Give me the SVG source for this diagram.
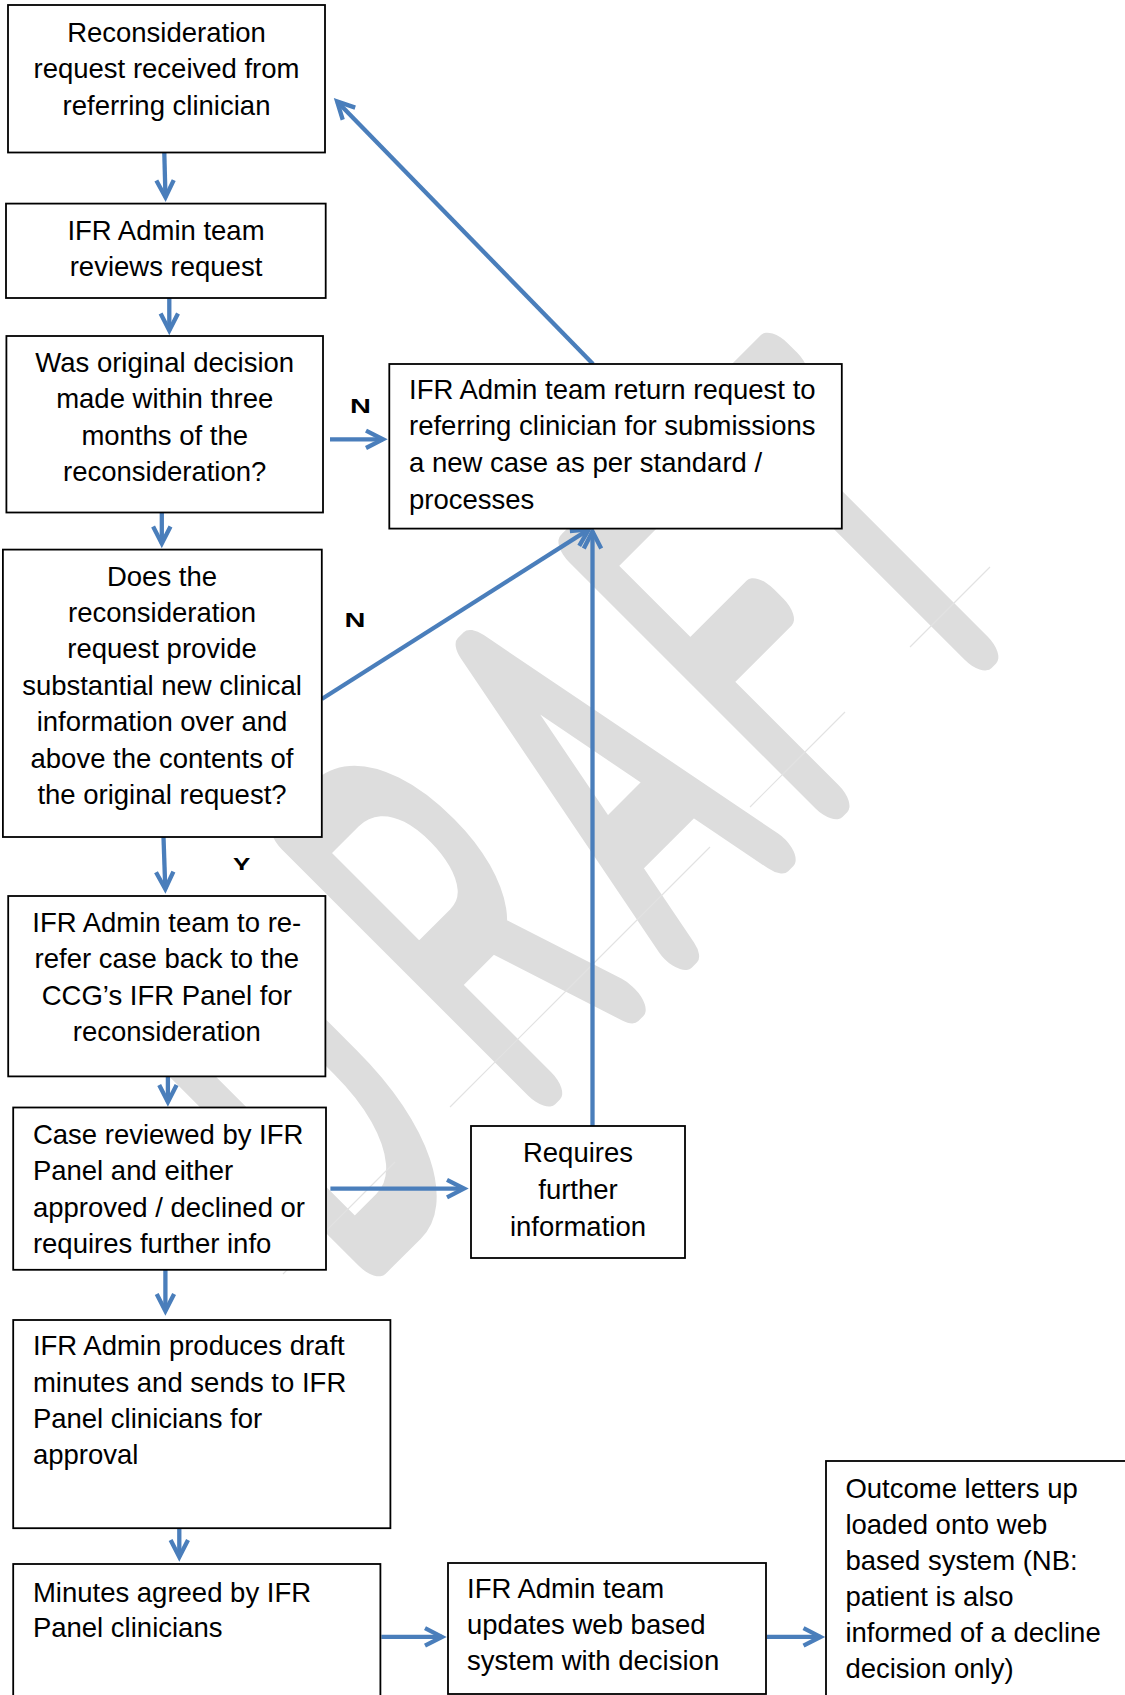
<svg xmlns="http://www.w3.org/2000/svg" width="1125" height="1695" viewBox="0 0 1125 1695">
<defs>
<style>
.box{fill:#fff;stroke:#000;stroke-width:1.8}
.t{font-family:"Liberation Sans",Arial,sans-serif;font-size:27.5px;fill:#000}
.c{text-anchor:middle}
.lbl{font-family:"Liberation Sans",Arial,sans-serif;font-size:20px;font-weight:bold;fill:#000}
.ar{fill:none;stroke:#4a7ebb;stroke-width:4.3;marker-end:url(#ah)}
.wm{font-family:Roboto,"Liberation Sans",sans-serif;font-weight:100;font-size:490px;fill:#dddddd;stroke:#dddddd;stroke-width:40;stroke-linejoin:round;vector-effect:non-scaling-stroke}
.faint{stroke:#e2e2e2;stroke-width:1.2;fill:none}
</style>
<marker id="ah" markerUnits="userSpaceOnUse" markerWidth="40" markerHeight="40" viewBox="-20 -20 40 40" refX="0" refY="0" orient="auto" overflow="visible">
<path d="M-17,-8.7 L0,0 L-17,8.7" fill="none" stroke="#4a7ebb" stroke-width="4.3" stroke-linejoin="miter"/>
</marker>
<clipPath id="yclip"><rect x="220" y="840" width="50" height="30"/></clipPath>
</defs>
<rect width="1125" height="1695" fill="#fff"/>

<g id="watermark">
<g transform="translate(812,812) rotate(-45) scale(0.52,1)">
<text class="wm" x="-1096 -633 -237 127 446" y="0" text-anchor="middle">DRAFT</text>
</g>
<path class="faint" d="M283,1274 L395,1162 M450,1107 L710,847 M750,807 L845,712 M910,647 L990,567"/>
</g>

<g id="connectors">
<line class="ar" x1="164.3" y1="153" x2="165.5" y2="197.3"/>
<line class="ar" x1="169.3" y1="298" x2="169.3" y2="330.5"/>
<line class="ar" x1="161.8" y1="512.5" x2="161.8" y2="543.5"/>
<line class="ar" x1="163.5" y1="837" x2="165.3" y2="889"/>
<line class="ar" x1="330" y1="439.3" x2="383" y2="439.3"/>
<line class="ar" x1="321.8" y1="699" x2="588.9" y2="529.4"/>
<line class="ar" x1="592.5" y1="1126" x2="592.5" y2="531.5"/>
<line class="ar" x1="593" y1="364" x2="337.1" y2="101.5"/>
<line class="ar" x1="167.9" y1="1076.4" x2="167.9" y2="1102"/>
<line class="ar" x1="330.4" y1="1188.6" x2="464" y2="1188.6"/>
<line class="ar" x1="165.4" y1="1270" x2="165.4" y2="1311"/>
<line class="ar" x1="179.3" y1="1528" x2="179.3" y2="1557"/>
<line class="ar" x1="381.4" y1="1636.9" x2="442" y2="1636.9"/>
<line class="ar" x1="767" y1="1636.9" x2="820.5" y2="1636.9"/>
<text class="lbl" transform="translate(350,412.5) scale(1.45,1)">N</text>
<text class="lbl" transform="translate(344.5,627) scale(1.45,1)">N</text>
<g clip-path="url(#yclip)"><text class="lbl" transform="translate(233,871.5) scale(1.3,1)">Y</text></g>
</g>

<g id="n1">
<rect class="box" x="8" y="5" width="317" height="147.5"/>
<text class="t c" x="166.5" y="41.8">Reconsideration</text>
<text class="t c" x="166.5" y="78.2">request received from</text>
<text class="t c" x="166.5" y="114.8">referring clinician</text>
</g>
<g id="n2">
<rect class="box" x="6" y="203.6" width="319.7" height="94.4"/>
<text class="t c" x="166" y="240">IFR Admin team</text>
<text class="t c" x="166" y="276">reviews request</text>
</g>
<g id="n3">
<rect class="box" x="6.4" y="336" width="316.6" height="176.5"/>
<text class="t c" x="164.7" y="372">Was original decision</text>
<text class="t c" x="164.7" y="408.3">made within three</text>
<text class="t c" x="164.7" y="444.6">months of the</text>
<text class="t c" x="164.7" y="481.2">reconsideration?</text>
</g>
<g id="n4">
<rect class="box" x="2.9" y="549.6" width="318.9" height="287.4"/>
<text class="t c" x="162" y="585.7">Does the</text>
<text class="t c" x="162" y="622.1">reconsideration</text>
<text class="t c" x="162" y="658.2">request provide</text>
<text class="t c" x="162" y="694.6">substantial new clinical</text>
<text class="t c" x="162" y="731.2">information over and</text>
<text class="t c" x="162" y="767.6">above the contents of</text>
<text class="t c" x="162" y="804.2">the original request?</text>
</g>
<g id="n5">
<rect class="box" x="389.3" y="364" width="452.5" height="164.6"/>
<text class="t" x="409" y="398.6">IFR Admin team return request to</text>
<text class="t" x="409" y="435.3">referring clinician for submissions</text>
<text class="t" x="409" y="472">a new case as per standard /</text>
<text class="t" x="409" y="508.6">processes</text>
</g>
<g id="n6">
<rect class="box" x="8.2" y="896" width="317.2" height="180.4"/>
<text class="t c" x="166.8" y="931.8">IFR Admin team to re-</text>
<text class="t c" x="166.8" y="968.4">refer case back to the</text>
<text class="t c" x="166.8" y="1004.6">CCG’s IFR Panel for</text>
<text class="t c" x="166.8" y="1041">reconsideration</text>
</g>
<g id="n7">
<rect class="box" x="13.2" y="1107.5" width="312.8" height="162.3"/>
<text class="t" x="32.9" y="1143.5">Case reviewed by IFR</text>
<text class="t" x="32.9" y="1180">Panel and either</text>
<text class="t" x="32.9" y="1216.7">approved / declined or</text>
<text class="t" x="32.9" y="1253.2">requires further info</text>
</g>
<g id="n8">
<rect class="box" x="471" y="1126" width="214" height="132"/>
<text class="t c" x="578" y="1162.4">Requires</text>
<text class="t c" x="578" y="1199">further</text>
<text class="t c" x="578" y="1235.6">information</text>
</g>
<g id="n9">
<rect class="box" x="13.2" y="1320" width="377.2" height="208.2"/>
<text class="t" x="32.9" y="1355.3">IFR Admin produces draft</text>
<text class="t" x="32.9" y="1391.8">minutes and sends to IFR</text>
<text class="t" x="32.9" y="1428">Panel clinicians for</text>
<text class="t" x="32.9" y="1464.4">approval</text>
</g>
<g id="n10">
<rect class="box" x="13.2" y="1564" width="367.2" height="160"/>
<text class="t" x="32.9" y="1601.6">Minutes agreed by IFR</text>
<text class="t" x="32.9" y="1637">Panel clinicians</text>
</g>
<g id="n11">
<rect class="box" x="448" y="1563" width="318" height="131"/>
<text class="t" x="467" y="1597.6">IFR Admin team</text>
<text class="t" x="467" y="1634">updates web based</text>
<text class="t" x="467" y="1670.3">system with decision</text>
</g>
<g id="n12">
<rect class="box" x="826" y="1461" width="320" height="260"/>
<text class="t" x="845.4" y="1497.6">Outcome letters up</text>
<text class="t" x="845.4" y="1533.8">loaded onto web</text>
<text class="t" x="845.4" y="1570.2">based system (NB:</text>
<text class="t" x="845.4" y="1605.8">patient is also</text>
<text class="t" x="845.4" y="1642">informed of a decline</text>
<text class="t" x="845.4" y="1678">decision only)</text>
</g>
</svg>
